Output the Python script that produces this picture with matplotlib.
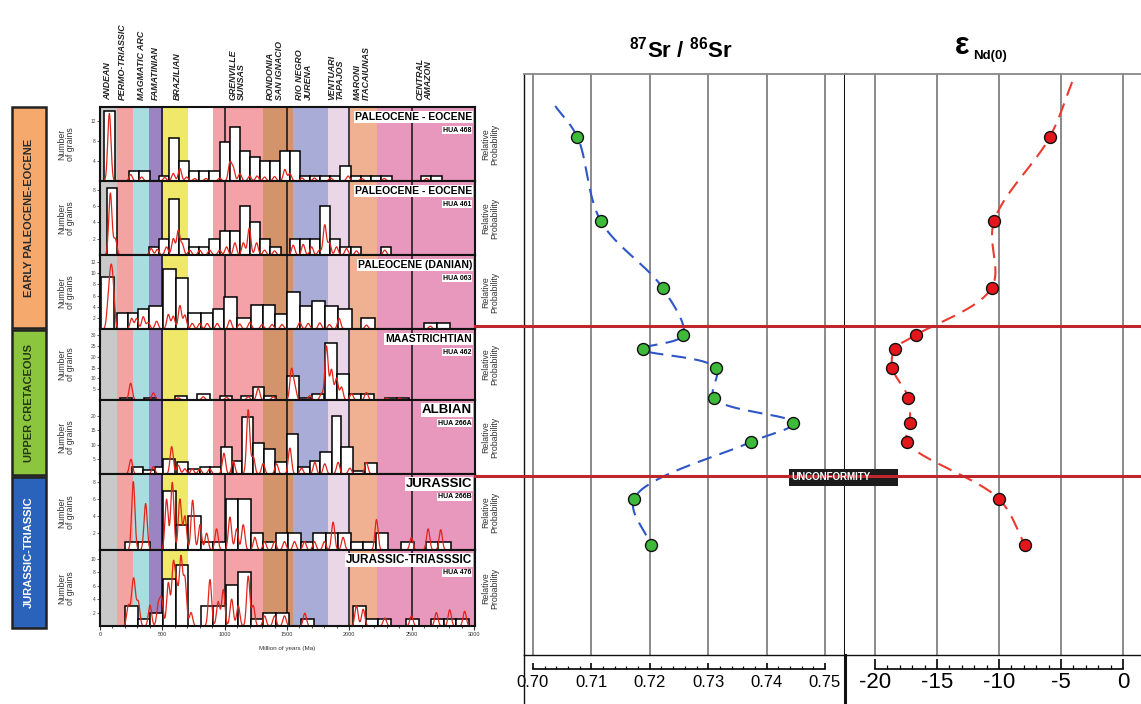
import numpy as np
import matplotlib
matplotlib.use("Agg")
import matplotlib.pyplot as plt
from matplotlib.patches import Rectangle
from matplotlib.lines import Line2D
from matplotlib.ticker import MultipleLocator, FixedLocator

# ---------------- DATA ----------------
# Detrital zircon age panels (Ma)
row_titles = ["PALEOCENE - EOCENE", "PALEOCENE - EOCENE", "PALEOCENE (DANIAN)",
              "MAASTRICHTIAN", "ALBIAN", "JURASSIC", "JURASSIC-TRIASSSIC"]
row_samples = ["HUA 468", "HUA 461", "HUA 063", "HUA 462", "HUA 266A", "HUA 266B", "HUA 476"]
row_ymax = [14.8, 9.1, 13.3, 33.0, 25.4, 9.0, 11.3]
row_yticks = [[4, 8, 12], [2, 4, 6, 8], [2, 4, 6, 8, 10, 12], [5, 10, 15, 20, 25, 30],
              [5, 10, 15, 20], [2, 4, 6, 8], [2, 4, 6, 8, 10]]

h1_left = [32, 232, 313, 474, 555, 636, 717, 798, 878, 959, 1040, 1121, 1202, 1282, 1363,
           1444, 1525, 1606, 1686, 1767, 1848, 1929, 2010, 2090, 2171, 2252, 2575, 2656]
h1_count = [14, 2, 2, 1, 8.7, 4, 2, 2, 2, 7.8, 10.8, 6, 4.9, 4, 4, 6, 6, 1, 1, 1, 1, 3,
            1, 1, 1, 1, 1, 1]
h2_left = [53, 394, 474, 555, 636, 717, 798, 878, 959, 1040, 1121, 1202, 1282, 1363, 1525,
           1606, 1686, 1767, 1848, 1929, 2010, 2252]
h2_count = [8.2, 1, 2, 6.9, 2, 1, 1, 2, 3, 3, 6, 4, 2, 1, 2, 2, 2, 6, 2, 1, 1, 1]
h3_left = [8, 134, 227, 307, 396, 508, 609, 708, 807, 903, 994, 1101, 1208, 1309, 1403,
           1502, 1603, 1697, 1804, 1911, 2097, 2597, 2700]
h3_count = [9.3, 2.8, 2.8, 3.6, 4.2, 10.7, 9.2, 2.8, 2.8, 3.6, 5.8, 1.9, 4.4, 4.4, 2.7,
            6.7, 4.2, 5.1, 4.2, 3.6, 1.9, 1.1, 1.1]
h4_left = [160, 350, 600, 780, 962, 1135, 1229, 1314, 1501, 1598, 1700, 1803, 1902, 1998,
           2097, 2284, 2380]
h4_count = [1, 1, 2, 3, 1.7, 1.7, 5.9, 1.9, 11, 1, 3, 26.6, 12.2, 2.8, 2.8, 0.8, 0.8]
h5_left = [254, 347, 441, 508, 615, 708, 802, 885, 967, 1063, 1143, 1229, 1314, 1403, 1496,
           1590, 1683, 1763, 1857, 1937, 2030, 2124]
h5_count = [2.3, 1.4, 2.3, 5, 4, 1.6, 2.5, 2.5, 9.4, 4.3, 19.5, 10.6, 8.5, 4, 13.8, 2.3,
            4.6, 7.4, 19.8, 9.2, 1, 3.9]
h6_left = [200, 302, 508, 606, 708, 810, 908, 1010, 1109, 1210, 1309, 1411, 1512, 1611,
           1710, 1811, 1910, 2012, 2111, 2212, 2413, 2613, 2712]
h6_count = [1, 1, 7, 3, 4, 1, 1, 6, 6, 2, 1, 2, 2, 1, 2, 2, 2, 1, 1, 2, 1, 1, 1]
h7_left = [200, 302, 401, 508, 606, 810, 908, 1010, 1109, 1210, 1309, 1411, 1611, 2030,
           2132, 2231, 2458, 2658, 2760, 2859]
h7_count = [3, 1, 2, 7, 9, 3, 3, 6.1, 8, 1, 2, 2, 1, 3, 1, 1, 1, 1, 1, 1]

# relative probability peaks (age, height in grain units)
p1_age = [75, 246, 334, 520, 588, 641, 695, 760, 850, 960, 1042, 1069, 1122, 1200, 1260,
          1320, 1400, 1483, 1523, 1620, 1720, 1850, 1990, 2100, 2280, 2620]
p1_amp = [13.5, 1.3, 0.8, 0.7, 1.5, 2.5, 0.8, 0.5, 0.5, 0.6, 3.6, 2.5, 1.5, 1, 1, 0.8,
          0.9, 2.3, 1.5, 0.6, 0.6, 0.6, 1, 0.5, 0.5, 0.5]
p2_age = [83, 122, 410, 460, 534, 588, 628, 660, 720, 800, 880, 960, 1015, 1082, 1150,
          1197, 1256, 1320, 1400, 1550, 1630, 1697, 1760, 1803, 1840, 1897, 1977, 2057, 2284]
p2_amp = [7.6, 2, 0.8, 0.7, 1, 2, 3, 1.3, 0.6, 0.6, 0.6, 0.6, 1, 1.5, 1.5, 3.3, 1.5, 0.6,
          0.5, 1.2, 1.3, 1, 0.6, 3.7, 1.5, 1, 0.8, 0.5, 0.6]
p3_age = [67, 88, 107, 254, 294, 347, 387, 454, 548, 588, 641, 681, 740, 800, 860, 940,
          1042, 1120, 1202, 1300, 1380, 1460, 1603, 1670, 1763, 1840, 1918, 2137, 2650]
p3_amp = [4.5, 8.5, 5.5, 1.9, 1.9, 2.2, 1.2, 1.4, 2.6, 2.3, 4.2, 2.5, 1, 1, 1, 1, 1.6,
          0.9, 1.2, 0.8, 0.8, 0.8, 1.2, 1, 1.1, 0.8, 1.9, 0.7, 0.5]
p4_age = [246, 428, 628, 828, 1015, 1189, 1269, 1389, 1536, 1563, 1683, 1777, 1817, 1857,
          1897, 1937, 2017, 2137, 2300, 2400]
p4_amp = [7.8, 3.3, 1, 1.5, 1.2, 1.5, 5.5, 1.5, 14, 6, 2, 3, 25, 14, 10, 6, 3, 3.5, 0.8, 0.8]
p5_age = [248, 428, 575, 628, 680, 740, 800, 880, 994, 1069, 1189, 1229, 1309, 1416, 1523,
          1616, 1723, 1803, 1910, 2004, 2137]
p5_amp = [5, 2.5, 9.4, 3, 1.8, 1.8, 1.8, 1.8, 7.1, 4.5, 22, 6, 3.6, 3.5, 8.9, 2, 4, 3.5,
          4, 2, 4]
p6_age = [267, 366, 534, 580, 641, 681, 743, 802, 855, 935, 1042, 1096, 1149, 1242, 1320,
          1400, 1480, 1560, 1640, 1720, 1800, 1870, 1950, 2218, 2498, 2632, 2733]
p6_amp = [8.1, 5.5, 6, 8, 6, 4, 5.9, 3, 2, 2.5, 3.9, 2.5, 3, 1.5, 1, 1, 1, 1, 1, 1, 1,
          3.3, 1.5, 3.6, 1.5, 2.5, 2.4]
p7_age = [227, 259, 275, 307, 401, 468, 494, 548, 588, 615, 649, 681, 730, 882, 948, 989,
          1056, 1109, 1189, 1229, 1320, 1400, 1480, 1643, 2057, 2111, 2284, 2498, 2698,
          2805, 2925]
p7_amp = [3, 3.5, 5, 3.5, 3.1, 3.1, 3.9, 6.4, 9, 5.4, 10, 6.9, 2, 6.9, 3.6, 5.4, 4, 3,
          7.4, 3, 1.5, 1.5, 1.5, 1.9, 3, 2.5, 1.2, 1.5, 2, 2.4, 2.2]

# age provinces (Ma)
band_edges = [0, 140, 262, 393, 505, 705, 905, 1310, 1545, 1826, 2003, 2218, 3010]
province_labels = ["ANDEAN", "PERMO-TRIASSIC", "MAGMATIC ARC", "FAMATINIAN", "BRAZILIAN",
                   "GRENVILLE\nSUNSAS", "RONDONIA\nSAN IGNACIO", "RIO NEGRO\nJURENA",
                   "VENTUARI\nTAPAJOS", "MARONI\nITACAIUNAS", "CENTRAL\nAMAZON"]
province_age = [64, 176, 329, 441, 618, 1099, 1404, 1636, 1893, 2102, 2599]

# isotopes (sample level = vertical position in the log)
sample_level = [137, 221, 288, 335, 349, 368, 398, 423, 442, 499, 545]
sr_ratio = [0.7076, 0.7116, 0.7222, 0.7257, 0.7188, 0.7313, 0.7310, 0.7446, 0.7373,
            0.7173, 0.7202]
eps_nd = [-5.9, -10.4, -10.6, -16.7, -18.4, -18.6, -17.3, -17.2, -17.4, -10.0, -7.9]
sr_trend_top = (0.7038, 106)
nd_trend_top = (-4.1, 82)
unconformity_levels = [326, 476]

sr_ticks = [0.70, 0.71, 0.72, 0.73, 0.74, 0.75]
nd_ticks = [-20, -15, -10, -5, 0]

units = ["EARLY PALEOCENE-EOCENE", "UPPER CRETACEOUS", "JURASSIC-TRIASSIC"]

# ---------------- STYLE / LAYOUT ----------------
plt.rcParams["font.family"] = ["Liberation Sans", "DejaVu Sans"]
plt.rcParams["axes.unicode_minus"] = False
plt.rcParams["mathtext.fontset"] = "custom"
plt.rcParams["mathtext.rm"] = "Liberation Sans"
plt.rcParams["mathtext.bf"] = "Liberation Sans:bold"
plt.rcParams["mathtext.it"] = "Liberation Sans:italic"
NARROW = ["Liberation Sans Narrow", "Liberation Sans", "DejaVu Sans"]

W, H = 1141, 704
fig = plt.figure(figsize=(W / 100, H / 100), dpi=100)
fig.patch.set_facecolor("white")


def rect(x0, y0, x1, y1):
    return [x0 / W, 1 - y1 / H, (x1 - x0) / W, (y1 - y0) / H]


band_colors = ["#c9c9c9", "#f4a3a3", "#a9dde0", "#9c84c2", "#efe868", "#ffffff",
               "#f5a1a8", "#d3946c", "#a8acd6", "#ead6e6", "#f0b193", "#e898bc"]
row_tops = [107, 181, 255, 329, 400, 474, 550, 626]
row_caps = [91, 86, 107, 100, 95, 102, 102]
title_sizes = [7.5, 7.5, 7.5, 7.5, 9.5, 9.5, 8.5]
hist_lefts = [h1_left, h2_left, h3_left, h4_left, h5_left, h6_left, h7_left]
hist_counts = [h1_count, h2_count, h3_count, h4_count, h5_count, h6_count, h7_count]
peak_ages = [p1_age, p2_age, p3_age, p4_age, p5_age, p6_age, p7_age]
peak_amps = [p1_amp, p2_amp, p3_amp, p4_amp, p5_amp, p6_amp, p7_amp]
SIG = 13.0

row_axes = []
for i in range(7):
    ax = fig.add_axes(rect(100, row_tops[i], 475, row_tops[i + 1]))
    row_axes.append(ax)
    rh = row_tops[i + 1] - row_tops[i]
    ax.set_xlim(0, 3008)
    ax.set_ylim(0, row_ymax[i])
    for a, b, c in zip(band_edges[:-1], band_edges[1:], band_colors):
        ax.axvspan(a, b, color=c, lw=0, zorder=0)
    for v in (500, 1000, 1500, 2000, 2500):
        ax.axvline(v, color="#111111", lw=1.1, zorder=1)
    lefts = np.asarray(hist_lefts[i], float)
    counts = np.asarray(hist_counts[i], float)
    widths = np.minimum(np.diff(np.r_[lefts, lefts[-1] + row_caps[i]]), row_caps[i])
    ax.bar(lefts, counts, width=widths, align="edge", facecolor="white",
           edgecolor="black", lw=1.1, zorder=2)
    xs = np.linspace(0, 3008, 3000)
    ys = np.zeros_like(xs)
    for m, a in zip(peak_ages[i], peak_amps[i]):
        ys += a * np.exp(-0.5 * ((xs - m) / SIG) ** 2)
    ax.plot(xs, ys, color="#e3241b", lw=0.9, zorder=3)
    for s in ax.spines.values():
        s.set_linewidth(1.5)
        s.set_color("#111111")
        s.set_zorder(5)
    ax.set_yticks(row_yticks[i])
    ax.tick_params(axis="y", labelsize=3.5, length=2, width=0.6, pad=1, colors="#444444")
    if i < 6:
        ax.set_xticks([])
    else:
        ax.set_xticks(range(0, 3001, 500))
        ax.xaxis.set_minor_locator(MultipleLocator(100))
        ax.tick_params(axis="x", which="major", labelsize=4, length=3, width=0.8, pad=1.5,
                       colors="#333333")
        ax.tick_params(axis="x", which="minor", length=1.5, width=0.5)
    ax.text(0.992, 1 - 10 / rh, row_titles[i], transform=ax.transAxes, ha="right",
            va="center", fontsize=title_sizes[i], fontweight="bold", zorder=6,
            bbox=dict(fc="white", ec="none", pad=0.6))
    ax.text(0.99, 1 - 23 / rh, row_samples[i], transform=ax.transAxes, ha="right",
            va="center", fontsize=5, fontweight="bold", zorder=6,
            bbox=dict(fc="white", ec="none", pad=0.5))
    ax.text(-0.09, 0.5, "Number\nof grains", transform=ax.transAxes, ha="center",
            va="center", rotation=90, fontsize=6.3, color="#333333", linespacing=1.0)
    ax.text(1.04, 0.5, "Relative\nProbability", transform=ax.transAxes, ha="center",
            va="center", rotation=90, fontsize=6.3, color="#333333", linespacing=1.0)

top_ax = row_axes[0]
for lab, age in zip(province_labels, province_age):
    top_ax.text(age, 1 + 7 / 74, lab, transform=top_ax.get_xaxis_transform(),
                rotation=90, ha="center", va="bottom", multialignment="left",
                fontsize=6.4, fontweight="bold", fontstyle="italic", color="#222222",
                family=NARROW, linespacing=0.95)
row_axes[-1].text(0.5, -0.29, "Million of years (Ma)", transform=row_axes[-1].transAxes,
                  ha="center", va="center", fontsize=4.5, color="#333333")

# ---------------- Sr / Nd panels ----------------
axS = fig.add_axes(rect(524, 74, 845, 655))
axN = fig.add_axes(rect(845, 74, 1141, 655))
axS.set_xlim(0.698459, 0.753425)
axN.set_xlim(-22.42, 1.45)
for ax, ticks in ((axS, sr_ticks), (axN, nd_ticks)):
    ax.set_ylim(655, 74)
    ax.set_xticks(ticks)
    ax.set_yticks([])
    ax.tick_params(axis="x", length=0, labelbottom=False)
    ax.grid(axis="x", color="#777777", lw=1.2)
    ax.set_axisbelow(True)
    for s in ax.spines.values():
        s.set_color("#111111")
        s.set_linewidth(1.0)
    ax.spines["top"].set_color("#888888")
    ax.spines["top"].set_linewidth(1.3)
axS.spines["right"].set_linewidth(2.2)
axN.spines["left"].set_visible(False)
axN.spines["right"].set_visible(False)


def smooth_curve(ax, xs, ys, n=40):
    pts = ax.transData.transform(np.column_stack([xs, ys]))
    P = np.vstack([2 * pts[0] - pts[1], pts, 2 * pts[-1] - pts[-2]])
    out = []
    for k in range(1, len(P) - 2):
        p0, p1, p2, p3 = P[k - 1], P[k], P[k + 1], P[k + 2]
        t0 = 0.0
        t1 = t0 + max(np.linalg.norm(p1 - p0), 1e-6) ** 0.5
        t2 = t1 + max(np.linalg.norm(p2 - p1), 1e-6) ** 0.5
        t3 = t2 + max(np.linalg.norm(p3 - p2), 1e-6) ** 0.5
        t = np.linspace(t1, t2, n)[:, None]
        A1 = (t1 - t) / (t1 - t0) * p0 + (t - t0) / (t1 - t0) * p1
        A2 = (t2 - t) / (t2 - t1) * p1 + (t - t1) / (t2 - t1) * p2
        A3 = (t3 - t) / (t3 - t2) * p2 + (t - t2) / (t3 - t2) * p3
        B1 = (t2 - t) / (t2 - t0) * A1 + (t - t0) / (t2 - t0) * A2
        B2 = (t3 - t) / (t3 - t1) * A2 + (t - t1) / (t3 - t1) * A3
        out.append((t2 - t) / (t2 - t1) * B1 + (t - t1) / (t2 - t1) * B2)
    return ax.transData.inverted().transform(np.vstack(out))


cS = smooth_curve(axS, [sr_trend_top[0]] + sr_ratio, [sr_trend_top[1]] + sample_level)
axS.plot(cS[:, 0], cS[:, 1], color="#2f56c6", lw=1.5, dashes=(7, 4), zorder=3)
axS.plot(sr_ratio, sample_level, "o", ms=8.6, mfc="#3dba3a", mec="#111111", mew=1.0,
         zorder=4)
cN = smooth_curve(axN, [nd_trend_top[0]] + eps_nd, [nd_trend_top[1]] + sample_level)
axN.plot(cN[:, 0], cN[:, 1], color="#ec3a30", lw=1.5, dashes=(7, 4), zorder=3)
axN.plot(eps_nd, sample_level, "o", ms=8.6, mfc="#e3161b", mec="#111111", mew=1.0,
         zorder=4)

# rulers
rS = fig.add_axes(rect(524, 655, 845, 669))
rN = fig.add_axes(rect(845, 655, 1141, 669))
rS.set_xlim(axS.get_xlim())
rN.set_xlim(axN.get_xlim())
for r in (rS, rN):
    r.patch.set_visible(False)
    r.set_yticks([])
    for side in ("top", "left", "right"):
        r.spines[side].set_visible(False)
    r.spines["bottom"].set_linewidth(1.2)
rS.spines["bottom"].set_bounds(sr_ticks[0], sr_ticks[-1])
rN.spines["bottom"].set_bounds(nd_ticks[0], nd_ticks[-1])
rS.set_xticks(sr_ticks)
rS.set_xticklabels(["%.2f" % v for v in sr_ticks], family=NARROW)
rS.xaxis.set_minor_locator(FixedLocator(np.linspace(sr_ticks[0], sr_ticks[-1], 26)))
rN.set_xticks(nd_ticks)
rN.set_xticklabels(["%d" % v for v in nd_ticks])
rN.xaxis.set_minor_locator(FixedLocator(np.linspace(nd_ticks[0], nd_ticks[-1], 21)))
rS.tick_params(axis="x", which="major", direction="in", length=4, width=1.2, labelsize=12,
               pad=4)
rS.tick_params(axis="x", which="minor", direction="in", length=2, width=0.9)
rN.tick_params(axis="x", which="major", direction="in", length=7, width=1.2, labelsize=16,
               pad=2)
rN.tick_params(axis="x", which="minor", direction="in", length=3, width=0.9)

# titles
fig.text(681 / W, 1 - 50 / H, r"$\mathbf{^{87}Sr\ /\ ^{86}Sr}$", ha="center", va="center",
         fontsize=16)
fig.text(962 / W, 1 - 46 / H, "ε", ha="center", va="center", fontsize=22,
         fontweight="bold")
fig.text(973 / W, 1 - 56 / H, "Nd(0)", ha="left", va="center", fontsize=9.5,
         fontweight="bold")

# ---------------- overlay ----------------
ov = fig.add_axes([0, 0, 1, 1], zorder=10)
ov.set_xlim(0, W)
ov.set_ylim(H, 0)
ov.axis("off")
ov.patch.set_visible(False)
for lv in unconformity_levels:
    ov.add_line(Line2D([475, W], [lv, lv], color="#c0272d", lw=2.2))
ov.add_line(Line2D([524, 524], [655, H], color="#111111", lw=1.0))
ov.add_line(Line2D([845, 845], [655, H], color="#111111", lw=2.2))
ov.add_patch(Rectangle((789, 469), 109, 17, fc="#1c1c1c", ec="none"))
ov.text(791, 477.5, "UNCONFORMITY", color="white", fontsize=7, fontweight="bold",
        ha="left", va="center")

unit_spans = [(107, 328), (330, 475), (477, 628)]
unit_colors = ["#f6a96c", "#8cc63f", "#2a63b9"]
unit_text = ["#2a2a2a", "#24380f", "#ffffff"]
for name, (y0, y1), fc, tc in zip(units, unit_spans, unit_colors, unit_text):
    ov.add_patch(Rectangle((12, y0), 34, y1 - y0, fc=fc, ec="#222222", lw=1.8))
    ov.text(29, (y0 + y1) / 2, name, rotation=90, ha="center", va="center",
            fontsize=8, fontweight="bold", color=tc)

fig.savefig("out.png", dpi=100)
